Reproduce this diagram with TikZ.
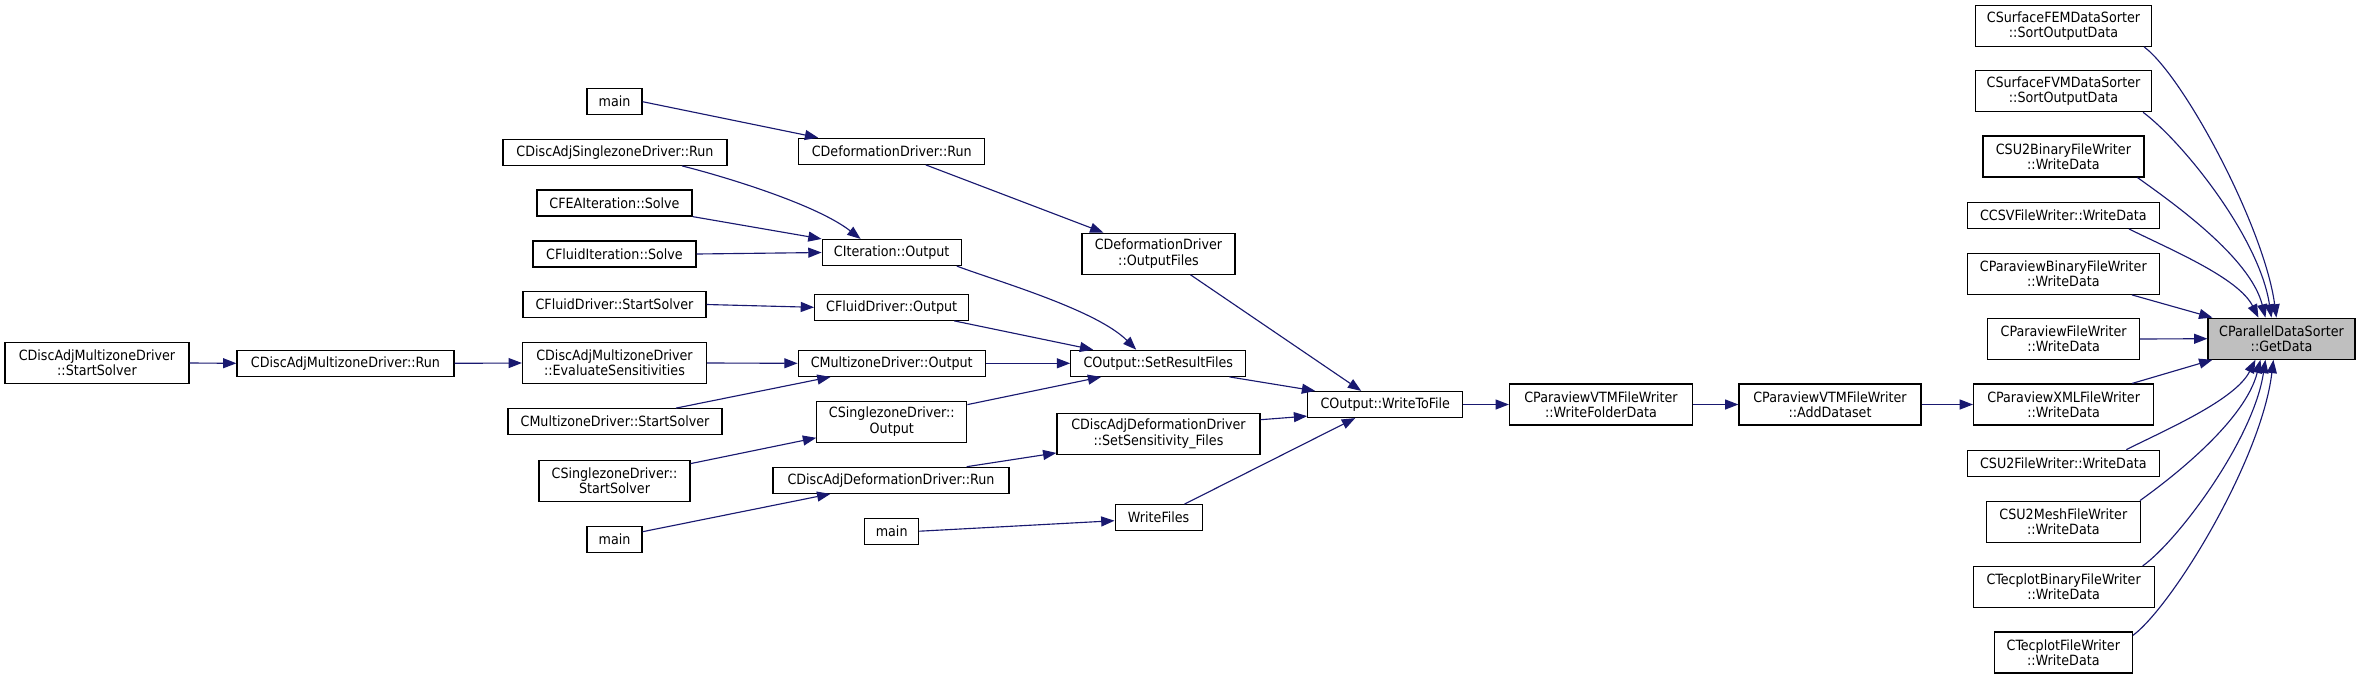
\documentclass[tikz,border=0pt]{standalone}
\usepackage{fontspec}
\setmainfont{DejaVu Sans Condensed}
\usetikzlibrary{arrows.meta,calc}

\definecolor{edgeblue}{RGB}{25,25,112}
\definecolor{hitgrey}{RGB}{191,191,191}

\tikzset{
  fn/.style={draw=black, fill=white, line width=0.9pt, inner sep=0pt,
    minimum height=26*0.75pt, align=center,
    font=\fontsize{10.6}{11.5}\selectfont},
  fn2/.style={fn, minimum height=41*0.75pt},
  bw/.style={minimum width=#1*0.75pt},
  hit/.style={fill=hitgrey},
  call/.style={draw=edgeblue, line width=0.85pt,
    -{Triangle[length=10pt,width=7.5pt,fill=edgeblue]}}
}

\begin{document}
\begin{tikzpicture}[x=0.75pt,y=0.75pt,yscale=-1,xscale=1]
\useasboundingbox (0,0) rectangle (2369,679);

% Text Node
\node[fn2,bw=184] (damStart) at (97,363) {CDiscAdjMultizoneDriver\\::StartSolver};
% Text Node
\node[fn,bw=217] (damRun) at (345.5,363.3) {CDiscAdjMultizoneDriver::Run};
% Text Node
\node[fn,bw=55] (mainA) at (614.5,101.7) {main};
% Text Node
\node[fn,bw=224] (dasRun) at (615,152.3) {CDiscAdjSinglezoneDriver::Run};
% Text Node
\node[fn,bw=155] (feaSolve) at (614.5,203) {CFEAIteration::Solve};
% Text Node
\node[fn,bw=163] (fluidSolve) at (614.5,254) {CFluidIteration::Solve};
% Text Node
\node[fn,bw=183] (fluidStart) at (614.5,304.5) {CFluidDriver::StartSolver};
% Text Node
\node[fn2,bw=184] (damEval) at (614.5,363) {CDiscAdjMultizoneDriver\\::EvaluateSensitivities};
% Text Node
\node[fn,bw=214] (mzStart) at (615,421.7) {CMultizoneDriver::StartSolver};
% Text Node
\node[fn2,bw=151] (szStart) at (614.5,480.7) {CSinglezoneDriver::\\StartSolver};
% Text Node
\node[fn,bw=55] (mainC) at (614.5,539.3) {main};
% Text Node
\node[fn,bw=186] (defRun) at (891.8,151.3) {CDeformationDriver::Run};
% Text Node
\node[fn,bw=139] (iterOut) at (891.7,252.5) {CIteration::Output};
% Text Node
\node[fn,bw=154] (fluidOut) at (891.7,307.3) {CFluidDriver::Output};
% Text Node
\node[fn,bw=187] (mzOut) at (891.7,363.3) {CMultizoneDriver::Output};
% Text Node
\node[fn2,bw=150] (szOut) at (891.8,421.7) {CSinglezoneDriver::\\Output};
% Text Node
\node[fn,bw=236] (dadRun) at (891,480.3) {CDiscAdjDeformationDriver::Run};
% Text Node
\node[fn,bw=54] (mainB) at (891.7,531.2) {main};
% Text Node
\node[fn2,bw=153] (defOut) at (1158.5,253.7) {CDeformationDriver\\::OutputFiles};
% Text Node
\node[fn,bw=175] (setRes) at (1158.3,363.3) {COutput::SetResultFiles};
% Text Node
\node[fn2,bw=203] (setSens) at (1158.5,433.8) {CDiscAdjDeformationDriver\\::SetSensitivity\_Files};
% Text Node
\node[fn,bw=87] (writeFiles) at (1158.6,517.7) {WriteFiles};
% Text Node
\node[fn,bw=155] (writeTo) at (1385.3,404.5) {COutput::WriteToFile};
% Text Node
\node[fn2,bw=183] (vtmFolder) at (1601,404.5) {CParaviewVTMFileWriter\\::WriteFolderData};
% Text Node
\node[fn2,bw=182] (vtmAdd) at (1830,404.5) {CParaviewVTMFileWriter\\::AddDataset};
% Text Node
\node[fn2,bw=176] (femSort) at (2063.5,25.8) {CSurfaceFEMDataSorter\\::SortOutputData};
% Text Node
\node[fn2,bw=176] (fvmSort) at (2063.5,91.2) {CSurfaceFVMDataSorter\\::SortOutputData};
% Text Node
\node[fn2,bw=161] (su2Bin) at (2063.4,156.5) {CSU2BinaryFileWriter\\::WriteData};
% Text Node
\node[fn,bw=192] (csvData) at (2063.3,215.3) {CCSVFileWriter::WriteData};
% Text Node
\node[fn2,bw=192] (pvBin) at (2063.3,273.8) {CParaviewBinaryFileWriter\\::WriteData};
% Text Node
\node[fn2,bw=152] (pvFile) at (2063.6,339) {CParaviewFileWriter\\::WriteData};
% Text Node
\node[fn2,bw=180] (pvXml) at (2063.6,404.5) {CParaviewXMLFileWriter\\::WriteData};
% Text Node
\node[fn,bw=192] (su2File) at (2063.3,463.2) {CSU2FileWriter::WriteData};
% Text Node
\node[fn2,bw=154] (su2Mesh) at (2063.3,521.7) {CSU2MeshFileWriter\\::WriteData};
% Text Node
\node[fn2,bw=181] (tecBin) at (2063.6,587) {CTecplotBinaryFileWriter\\::WriteData};
% Text Node
\node[fn2,bw=138] (tecData) at (2063.3,652.5) {CTecplotFileWriter\\::WriteData};
% Text Node
\node[fn2,hit,bw=147] (getData) at (2281.5,338.7) {CParallelDataSorter\\::GetData};

%Straight Lines
\draw[call] (damStart.east) -- (damRun.west);
\draw[call] (damRun.east) -- (damEval.west);
\draw[call] (damEval.east) -- (mzOut.west);
\draw[call] (mainA.east) -- ($(defRun.north west)+(20,0)$);
\draw[call] ($(defRun.south)+(34,0)$) -- ($(defOut.north west)+(22,0)$);
%Curve Lines
\draw[call] ($(dasRun.south)+(67,0)$) .. controls +(40,10) and +(-45,-35) .. ($(iterOut.north west)+(39,0)$);
%Straight Lines
\draw[call] (feaSolve.south east) -- (iterOut.north west);
\draw[call] (fluidSolve.east) -- (iterOut.west);
\draw[call] (fluidStart.east) -- (fluidOut.west);
\draw[call] ($(mzStart.north)+(61,0)$) -- ($(mzOut.south west)+(33,0)$);
\draw[call] ($(szStart.north east)+(0,4)$) -- ($(szOut.south west)+(0,-5)$);
\draw[call] ($(mainC.north east)+(0,6)$) -- ($(dadRun.south west)+(58,0)$);
%Curve Lines
\draw[call] ($(iterOut.south east)+(-5,0)$) .. controls +(40,15) and +(-40,-40) .. ($(setRes.north west)+(66,0)$);
%Straight Lines
\draw[call] ($(fluidOut.south east)+(-15,0)$) -- ($(setRes.north west)+(23,0)$);
\draw[call] (mzOut.east) -- (setRes.west);
\draw[call] ($(szOut.north east)+(0,4)$) -- ($(setRes.south west)+(31,0)$);
\draw[call] ($(dadRun.north east)+(-43,0)$) -- ($(setSens.south west)+(0,-2)$);
\draw[call] (mainB.east) -- ($(writeFiles.west)+(0,3)$);
\draw[call] ($(defOut.south)+(32,0)$) -- ($(writeTo.north west)+(54,0)$);
\draw[call] ($(setRes.south east)+(-17,0)$) -- ($(writeTo.north west)+(8,0)$);
\draw[call] ($(setSens.north east)+(0,7)$) -- ($(writeTo.south west)+(0,-2)$);
\draw[call] ($(writeFiles.north west)+(70,0)$) -- ($(writeTo.south west)+(48,0)$);
\draw[call] (writeTo.east) -- (vtmFolder.west);
\draw[call] (vtmFolder.east) -- (vtmAdd.west);
\draw[call] (vtmAdd.east) -- (pvXml.west);
%Curve Lines
\draw[call] ($(femSort.south east)+(-8,0)$) .. controls +(40,30) and +(-12,-90) .. ($(getData.north west)+(69,0)$);
\draw[call] ($(fvmSort.south east)+(-9,0)$) .. controls +(40,30) and +(-12,-80) .. ($(getData.north west)+(64,0)$);
\draw[call] ($(su2Bin.south east)+(-7,0)$) .. controls +(35,25) and +(-15,-60) .. ($(getData.north west)+(58,0)$);
\draw[call] ($(csvData.south east)+(-31,0)$) .. controls +(40,20) and +(-20,-40) .. ($(getData.north west)+(51,0)$);
%Straight Lines
\draw[call] ($(pvBin.south east)+(-28,0)$) -- ($(getData.north west)+(5,0)$);
\draw[call] (pvFile.east) -- (getData.west);
\draw[call] ($(pvXml.north east)+(-22,0)$) -- ($(getData.south west)+(5,0)$);
%Curve Lines
\draw[call] ($(su2File.north)+(63,0)$) .. controls +(40,-20) and +(-20,40) .. ($(getData.south west)+(48,0)$);
\draw[call] ($(su2Mesh.north east)+(-1,0)$) .. controls +(35,-25) and +(-15,60) .. ($(getData.south west)+(53,0)$);
\draw[call] ($(tecBin.north east)+(-12,0)$) .. controls +(35,-25) and +(-12,80) .. ($(getData.south west)+(58,0)$);
\draw[call] ($(tecData.north east)+(0,4)$) .. controls +(40,-30) and +(-12,100) .. ($(getData.south west)+(66,0)$);

\end{tikzpicture}
\end{document}
